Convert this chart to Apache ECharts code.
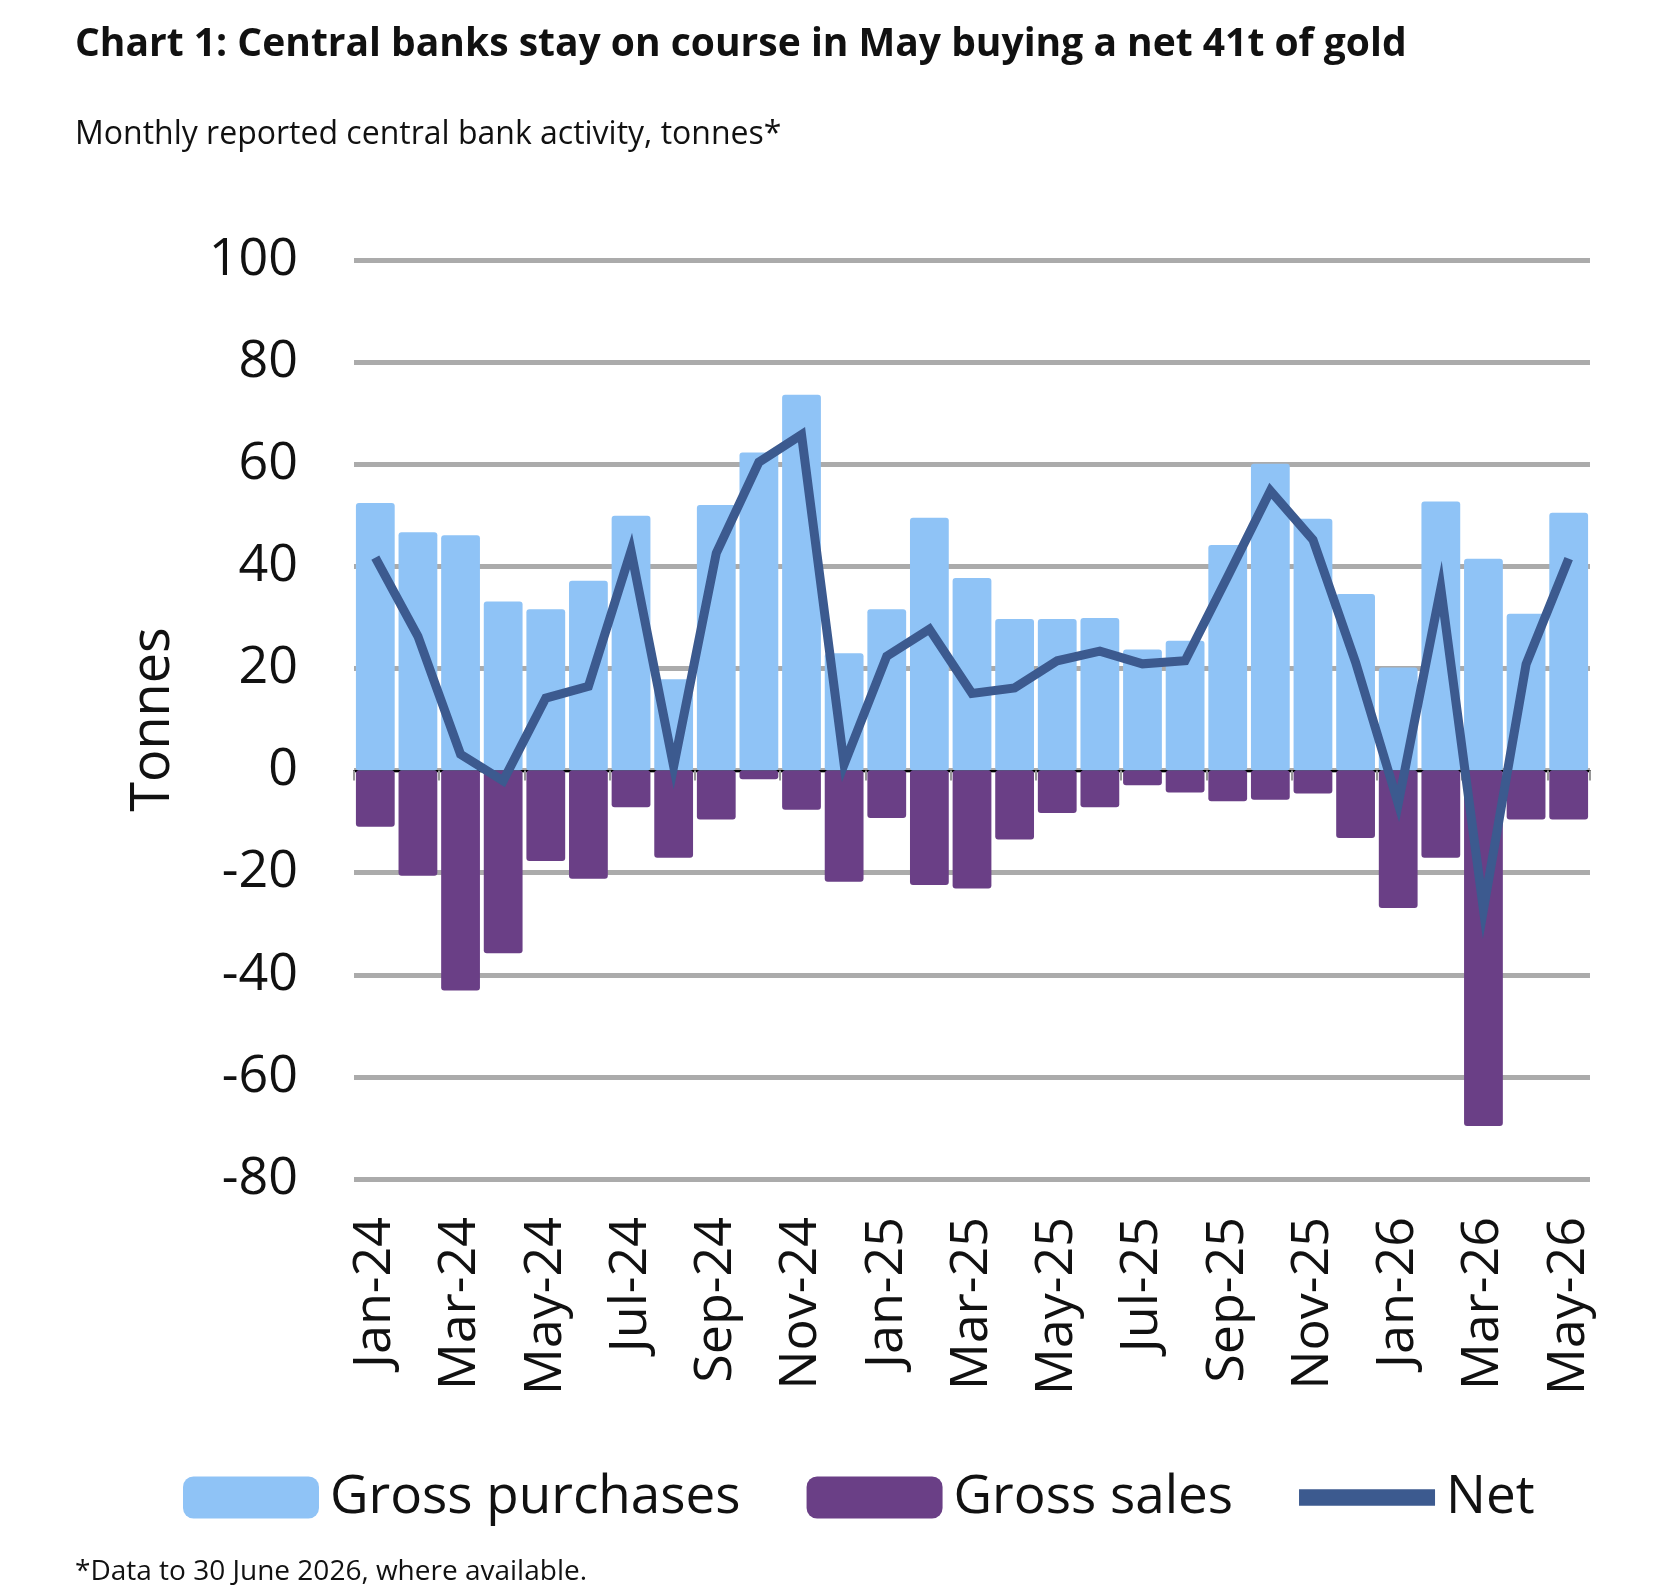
<!DOCTYPE html>
<html>
<head>
<meta charset="utf-8">
<script src="https://cdn.jsdelivr.net/npm/echarts@6/dist/echarts.min.js"></script>
<style>
  html, body { margin: 0; padding: 0; background: #fff; }
  #chart { width: 1674px; height: 1594px; }
</style>
</head>
<body>
<div id="chart"></div>
<script>
const months = [
    'Jan-24', 'Feb-24', 'Mar-24', 'Apr-24', 'May-24', 'Jun-24', 'Jul-24', 'Aug-24', 'Sep-24', 'Oct-24', 'Nov-24', 'Dec-24',
    'Jan-25', 'Feb-25', 'Mar-25', 'Apr-25', 'May-25', 'Jun-25', 'Jul-25', 'Aug-25', 'Sep-25', 'Oct-25', 'Nov-25', 'Dec-25',
    'Jan-26', 'Feb-26', 'Mar-26', 'Apr-26', 'May-26'
];
const grossPurchases = [
    52.4, 46.7, 46.1, 33.1, 31.6, 37.2, 49.9, 17.9, 52.0, 62.3, 73.6, 23.0,
    31.6, 49.5, 37.7, 29.7, 29.7, 29.9, 23.7, 25.4, 44.2, 60.1, 49.3, 34.6,
    20.2, 52.7, 41.5, 30.7, 50.5
];
const grossSales = [
    -11.0, -20.6, -43.1, -35.8, -17.7, -21.2, -7.2, -17.1, -9.6, -1.7, -7.7, -21.8,
    -9.3, -22.4, -23.1, -13.5, -8.3, -7.2, -2.9, -4.3, -6.0, -5.7, -4.5, -13.2,
    -26.9, -17.1, -69.6, -9.6, -9.6
];
const net = [
    41.7, 26.3, 3.2, -2.0, 14.2, 16.5, 43.0, 0.8, 42.6, 60.4, 65.8, 1.2,
    22.4, 27.7, 15.1, 16.2, 21.5, 23.4, 20.9, 21.5, 38.0, 54.8, 45.2, 21.2,
    -6.5, 35.7, -27.2, 20.8, 41.5
];

const colorBuy = '#8fc3f6';
const colorSell = '#6a3f86';
const colorNet = '#3c5a8f';
const font = '"Open Sans", "Noto Sans", sans-serif';

const chart = echarts.init(document.getElementById('chart'), null, { renderer: 'canvas' });

chart.setOption({
    backgroundColor: '#ffffff',
    animation: false,
    textStyle: { fontFamily: font },
    title: [{
        text: 'Chart 1: Central banks stay on course in May buying a net 41t of gold',
        left: 70,
        top: 20,
        textStyle: { fontFamily: font, fontSize: 39, fontWeight: 'bold', color: '#111' }
    }, {
        text: 'Monthly reported central bank activity, tonnes*',
        left: 70,
        top: 114,
        textStyle: { fontFamily: font, fontSize: 32, fontWeight: 'normal', color: '#111' }
    }, {
        text: '*Data to 30 June 2026, where available.',
        left: 70,
        top: 1553,
        textStyle: { fontFamily: font, fontSize: 28, fontWeight: 'normal', color: '#111' }
    }],
    legend: {
        left: 178,
        top: 1466,
        itemWidth: 136,
        itemHeight: 42,
        itemGap: 66,
        textStyle: { fontFamily: font, fontSize: 53, color: '#111', padding: [0, 0, 0, 6] },
        data: [
            { name: 'Gross purchases', icon: 'roundRect' },
            { name: 'Gross sales', icon: 'roundRect' },
            { name: 'Net', icon: 'path://M0,0 L1,0 L1,0.12 L0,0.12 Z', itemStyle: { color: colorNet } }
        ]
    },
    grid: {
        left: 354,
        right: 84,
        top: 260,
        bottom: 415,
        containLabel: false
    },
    xAxis: [{
        type: 'category',
        data: months,
        position: 'bottom',
        axisLine: { show: false, onZero: false },
        axisTick: { show: false },
        axisLabel: {
            interval: 1,
            rotate: 90,
            margin: 38,
            fontSize: 52,
            fontFamily: font,
            color: '#111'
        }
    }, {
        type: 'category',
        data: months,
        position: 'bottom',
        axisLine: { onZero: true, lineStyle: { color: '#000', width: 2 } },
        axisTick: { show: true, interval: 1, length: 10, lineStyle: { color: '#999', width: 2 } },
        axisLabel: { show: false }
    }],
    yAxis: {
        type: 'value',
        min: -80,
        max: 100,
        interval: 20,
        name: 'Tonnes',
        nameLocation: 'middle',
        nameRotate: 90,
        nameGap: 173,
        nameTextStyle: { fontFamily: font, fontSize: 54, color: '#111' },
        axisLine: { show: false },
        axisTick: { show: false },
        axisLabel: { fontSize: 52, fontFamily: font, color: '#111', margin: 56 },
        splitLine: { lineStyle: { color: '#ababab', width: 5 } }
    },
    series: [{
        name: 'Gross purchases',
        type: 'bar',
        stack: 'gross',
        data: grossPurchases,
        barCategoryGap: '9%',
        itemStyle: { color: colorBuy, borderRadius: 3 },
        z: 2
    }, {
        name: 'Gross sales',
        type: 'bar',
        stack: 'gross',
        data: grossSales,
        barCategoryGap: '9%',
        itemStyle: { color: colorSell, borderRadius: 3 },
        z: 2
    }, {
        name: 'Net',
        type: 'line',
        data: net,
        symbol: 'none',
        lineStyle: { color: colorNet, width: 9, join: 'miter' },
        itemStyle: { color: colorNet },
        z: 5
    }]
});
</script>
</body>
</html>
